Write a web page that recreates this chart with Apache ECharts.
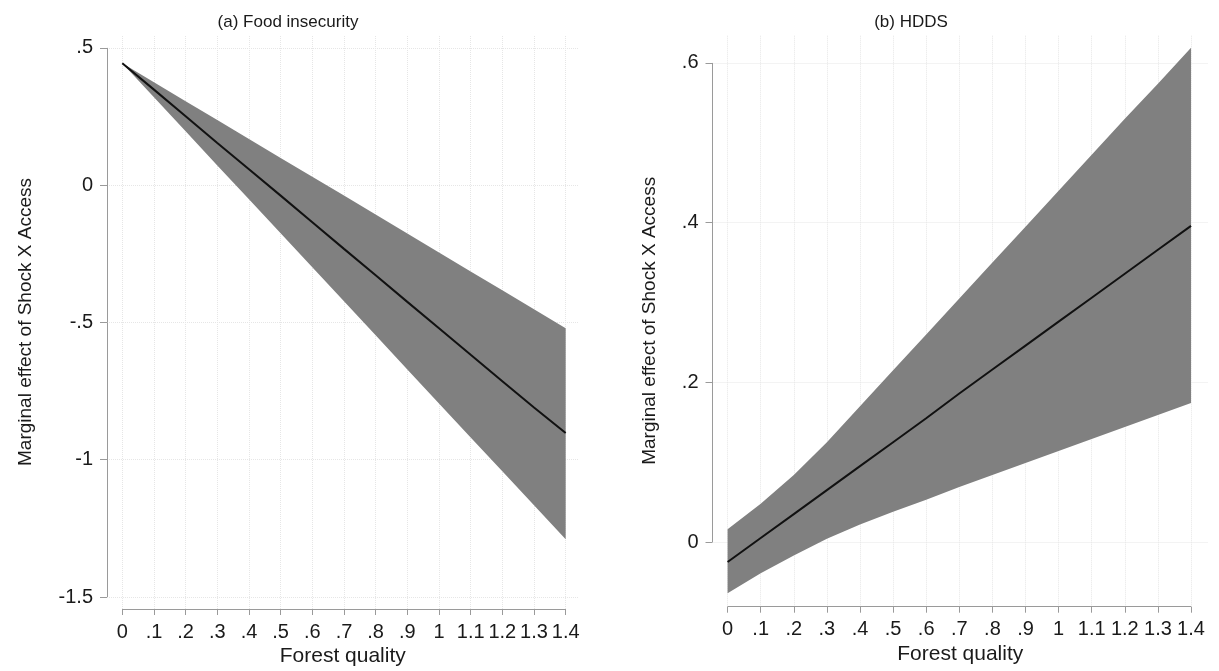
<!DOCTYPE html>
<html>
<head>
<meta charset="utf-8">
<script src="https://cdn.jsdelivr.net/npm/echarts@6/dist/echarts.min.js"></script>
<style>
  html, body { margin: 0; padding: 0; background: #ffffff; }
  #chart { width: 1219px; height: 671px; }
</style>
</head>
<body>
<div id="chart"></div>
<script>
// ---------- data ----------
const xVals = [0, 0.1, 0.2, 0.3, 0.4, 0.5, 0.6, 0.7, 0.8, 0.9, 1.0, 1.1, 1.2, 1.3, 1.4];

// (a) Food insecurity
const foodMean  = [0.444, 0.348, 0.251, 0.154, 0.058, -0.038, -0.135, -0.232, -0.328, -0.425, -0.521, -0.618, -0.714, -0.810, -0.903];
const foodUpper = [0.444, 0.375, 0.306, 0.237, 0.168, 0.099, 0.031, -0.038, -0.107, -0.176, -0.245, -0.314, -0.383, -0.452, -0.521];
const foodLower = [0.444, 0.320, 0.196, 0.072, -0.051, -0.175, -0.299, -0.423, -0.547, -0.671, -0.795, -0.919, -1.042, -1.166, -1.290];

// (b) HDDS
const hddsMean  = [-0.025, 0.005, 0.035, 0.065, 0.095, 0.125, 0.155, 0.186, 0.216, 0.246, 0.276, 0.306, 0.336, 0.366, 0.396];
const hddsUpper = [0.016, 0.048, 0.084, 0.125, 0.170, 0.215, 0.260, 0.305, 0.350, 0.395, 0.440, 0.485, 0.530, 0.574, 0.619];
const hddsLower = [-0.064, -0.039, -0.017, 0.004, 0.022, 0.038, 0.053, 0.069, 0.084, 0.099, 0.114, 0.129, 0.144, 0.159, 0.174];

// ticks
const xTicks  = [0, 0.1, 0.2, 0.3, 0.4, 0.5, 0.6, 0.7, 0.8, 0.9, 1.0, 1.1, 1.2, 1.3, 1.4];
const xLabels = ['0', '.1', '.2', '.3', '.4', '.5', '.6', '.7', '.8', '.9', '1', '1.1', '1.2', '1.3', '1.4'];
const yTicksA  = [-1.5, -1, -0.5, 0, 0.5];
const yLabelsA = ['-1.5', '-1', '-.5', '0', '.5'];
const yTicksB  = [0, 0.2, 0.4, 0.6];
const yLabelsB = ['0', '.2', '.4', '.6'];

const titles = ['(a) Food insecurity', '(b) HDDS'];
const xTitle = 'Forest quality';
const yTitle = 'Marginal effect of Shock X Access';

// ---------- style ----------
const FONT = '"Liberation Sans", Arial, Helvetica, sans-serif';
const TXT = '#1a1a1a';
const AXIS = '#9a9a9a';
const GRIDC = '#e6e6e6';
const BAND = '#808080';
const LINE = '#111111';

function labelFor(ticks, labels) {
  return function (v) {
    for (let i = 0; i < ticks.length; i++) {
      if (Math.abs(ticks[i] - v) < 1e-9) return labels[i];
    }
    return '';
  };
}

const panels = [
  { xMin: -0.0483, xMax: 1.4405, yMin: -1.5437, yMax: 0.547,
    grid: { left: 107, top: 35, width: 471.5, height: 574 },
    yTicks: yTicksA, yLabels: yLabelsA, yNameGap: 72,
    mean: foodMean, upper: foodUpper, lower: foodLower },
  { xMin: -0.0456, xMax: 1.4513, yMin: -0.081, yMax: 0.635,
    grid: { left: 712.5, top: 35, width: 495.5, height: 571.7 },
    yTicks: yTicksB, yLabels: yLabelsB, yNameGap: 53,
    mean: hddsMean, upper: hddsUpper, lower: hddsLower }
];

const grids = [], xAxes = [], yAxes = [], series = [];

panels.forEach(function (p, k) {
  grids.push(Object.assign({ containLabel: false, outerBoundsMode: 'none' }, p.grid));
  xAxes.push({
    gridIndex: k, type: 'value', min: p.xMin, max: p.xMax, position: 'bottom',
    axisLine: { show: false, onZero: false },
    splitLine: { show: false },
    axisTick: { show: true, customValues: xTicks, length: 6, lineStyle: { color: AXIS, width: 1 } },
    axisLabel: { customValues: xTicks, formatter: labelFor(xTicks, xLabels), margin: 13,
                 fontSize: 20, color: TXT, fontFamily: FONT, hideOverlap: false },
    name: xTitle, nameLocation: 'middle', nameGap: 37, nameMoveOverlap: false,
    nameTextStyle: { fontSize: 21, color: TXT, fontFamily: FONT }
  });
  yAxes.push({
    gridIndex: k, type: 'value', min: p.yMin, max: p.yMax, position: 'left',
    axisLine: { show: false, onZero: false },
    splitLine: { show: false },
    axisTick: { show: true, customValues: p.yTicks, length: 7, lineStyle: { color: AXIS, width: 1 } },
    axisLabel: { customValues: p.yTicks, formatter: labelFor(p.yTicks, p.yLabels), margin: 14,
                 fontSize: 20, color: TXT, fontFamily: FONT, hideOverlap: false },
    name: yTitle, nameLocation: 'middle', nameGap: p.yNameGap, nameRotate: 90, nameMoveOverlap: false,
    nameTextStyle: { fontSize: 19, color: TXT, fontFamily: FONT }
  });

  const gridLines = p.yTicks.map(function (v) { return { yAxis: v }; })
    .concat(xTicks.map(function (v) { return { xAxis: v }; }));

  // faint dotted grid lines (beneath everything)
  series.push({
    type: 'line', xAxisIndex: k, yAxisIndex: k, z: 0, silent: true,
    data: xVals.map(function (x, i) { return [x, p.mean[i]]; }),
    showSymbol: false, symbol: 'none', lineStyle: { opacity: 0 },
    markLine: {
      z: 0, silent: true, symbol: ['none', 'none'], label: { show: false },
      lineStyle: { color: GRIDC, type: 'dotted', width: 1 },
      emphasis: { disabled: true },
      data: gridLines
    }
  });

  // confidence band
  series.push({
    type: 'custom', xAxisIndex: k, yAxisIndex: k, z: 2, silent: true,
    data: [[0, 0]],
    encode: { x: 0, y: 1 },
    renderItem: function (params, api) {
      const pts = [];
      for (let i = 0; i < xVals.length; i++) pts.push(api.coord([xVals[i], p.upper[i]]));
      for (let i = xVals.length - 1; i >= 0; i--) pts.push(api.coord([xVals[i], p.lower[i]]));
      return { type: 'polygon', shape: { points: pts }, style: { fill: BAND } };
    }
  });

  // point estimate line
  series.push({
    type: 'line', xAxisIndex: k, yAxisIndex: k, z: 3, silent: true,
    data: xVals.map(function (x, i) { return [x, p.mean[i]]; }),
    showSymbol: false, symbol: 'none',
    lineStyle: { color: LINE, width: 2 }
  });

  // axis lines spanning only the tick range (Stata style)
  series.push({
    type: 'line', xAxisIndex: k, yAxisIndex: k, z: 4, silent: true, clip: false,
    data: [],
    markLine: {
      z: 6, silent: true, symbol: ['none', 'none'], label: { show: false },
      lineStyle: { color: AXIS, type: 'solid', width: 1 },
      emphasis: { disabled: true },
      data: [
        [{ coord: [p.xMin, p.yTicks[0]] }, { coord: [p.xMin, p.yTicks[p.yTicks.length - 1]] }],
        [{ coord: [xTicks[0], p.yMin] }, { coord: [xTicks[xTicks.length - 1], p.yMin] }]
      ]
    }
  });
});

const option = {
  animation: false,
  backgroundColor: '#ffffff',
  textStyle: { fontFamily: FONT },
  title: [
    { text: titles[0], left: 288, top: 14, textAlign: 'center', padding: 0,
      textStyle: { fontSize: 17, fontWeight: 'normal', color: TXT, fontFamily: FONT } },
    { text: titles[1], left: 911, top: 14, textAlign: 'center', padding: 0,
      textStyle: { fontSize: 17, fontWeight: 'normal', color: TXT, fontFamily: FONT } }
  ],
  grid: grids,
  xAxis: xAxes,
  yAxis: yAxes,
  series: series
};

const chart = echarts.init(document.getElementById('chart'), null, { renderer: 'canvas' });
chart.setOption(option);
</script>
</body>
</html>
